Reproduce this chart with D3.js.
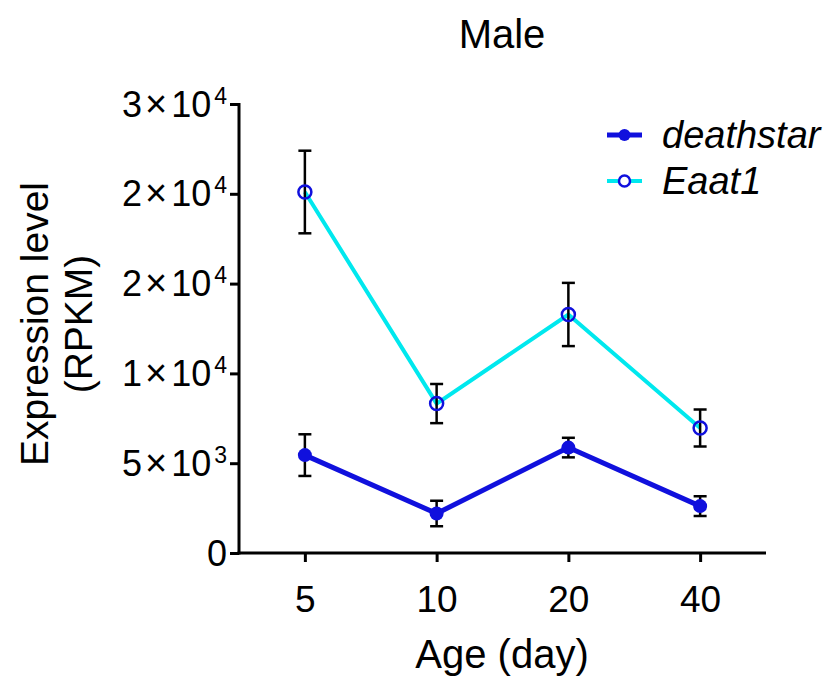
<!DOCTYPE html>
<html>
<head>
<meta charset="utf-8">
<script src="https://cdn.jsdelivr.net/npm/d3@7"></script>
<style>
  body { margin: 0; background: #fff; }
  svg { font-family: "Liberation Sans", Arial, sans-serif; }
  .axis path, .axis line { stroke: #000; stroke-width: 3; }
  .axis text { font-size: 37px; fill: #000; }
</style>
</head>
<body>
<svg width="835" height="678"></svg>
<script>
// data
const ages = ["5", "10", "20", "40"];
const deathstar = [5450, 2200, 5870, 2610];
const deathstarErr = [1160, 710, 545, 550];
const eaat1 = [20100, 8320, 13280, 6960];
const eaat1Err = [2300, 1090, 1760, 1030];
const yTicks = [0, 5000, 10000, 15000, 20000, 25000];
const yTickMant = ["0", "5", "1", "2", "2", "3"];
const yTickExp = [null, "3", "4", "4", "4", "4"];

const svg = d3.select('svg');
const x0 = 239, x1 = 766, yBottom = 553, yTop = 104;

const xScale = d3.scalePoint()
    .domain(ages)
    .range([x0, x1])
    .padding(0.5);
const yScale = d3.scaleLinear()
    .domain([0, 25000])
    .range([yBottom, yTop]);

// axes
const xAxis = d3.axisBottom(xScale).tickSize(9).tickSizeOuter(0).tickPadding(24);
const yAxis = d3.axisLeft(yScale).tickValues(yTicks).tickSize(9).tickSizeOuter(0).tickPadding(3);

const gx = svg.append('g').attr('class', 'axis')
    .attr('transform', `translate(0,${yBottom})`).call(xAxis);
const gy = svg.append('g').attr('class', 'axis')
    .attr('transform', `translate(${x0},0)`).call(yAxis);
gx.select('.domain').attr('d', `M${x0 - 1.5},0H${x1}`);
gy.select('.domain').attr('d', `M0,${yTop - 1}V${yBottom + 1.5}`);

// y tick labels like 5x10^3
gy.selectAll('.tick text').each(function (d, i) {
    const t = d3.select(this).text(null).attr('dy', '12px').style('font-size', '36px');
    t.append('tspan').text(yTickMant[i]);
    if (yTickExp[i]) {
        t.append('tspan').text('\u00d7').style('font-size', '38px').attr('dx', 3);
        t.append('tspan').text('10').attr('dx', 4);
        t.append('tspan').text(yTickExp[i]).style('font-size', '23px').attr('dy', '-13px').attr('dx', 3);
    }
});

// lines
const line = (vals) => d3.line()
    .x((d, i) => xScale(ages[i]))
    .y(d => yScale(d))(vals);

svg.append('path').attr('d', line(eaat1))
    .attr('fill', 'none').attr('stroke', '#00e8ee').attr('stroke-width', 4);
svg.append('path').attr('d', line(deathstar))
    .attr('fill', 'none').attr('stroke', '#1010dd').attr('stroke-width', 5);

// error bars
function errBars(vals, errs) {
    const g = svg.append('g').attr('stroke', '#000').attr('stroke-width', 2.5);
    vals.forEach((v, i) => {
        const cx = xScale(ages[i]);
        const top = yScale(v + errs[i]), bot = yScale(v - errs[i]);
        g.append('line').attr('x1', cx).attr('x2', cx).attr('y1', top).attr('y2', bot);
        g.append('line').attr('x1', cx - 6.5).attr('x2', cx + 6.5).attr('y1', top).attr('y2', top);
        g.append('line').attr('x1', cx - 6.5).attr('x2', cx + 6.5).attr('y1', bot).attr('y2', bot);
    });
}
errBars(eaat1, eaat1Err);
errBars(deathstar, deathstarErr);

// markers
svg.append('g').selectAll('circle').data(eaat1).join('circle')
    .attr('cx', (d, i) => xScale(ages[i])).attr('cy', d => yScale(d))
    .attr('r', 6.5).attr('fill', 'none').attr('stroke', '#1010dd').attr('stroke-width', 2.5);
svg.append('g').selectAll('circle').data(deathstar).join('circle')
    .attr('cx', (d, i) => xScale(ages[i])).attr('cy', d => yScale(d))
    .attr('r', 7).attr('fill', '#1010dd');

// titles
svg.append('text').attr('x', 502).attr('y', 48).attr('text-anchor', 'middle')
    .style('font-size', '40px').text('Male');
svg.append('text').attr('x', 502).attr('y', 668).attr('text-anchor', 'middle')
    .style('font-size', '40px').text('Age (day)');
const yt = svg.append('text').attr('transform', 'translate(48,324) rotate(-90)')
    .attr('text-anchor', 'middle').style('font-size', '39px');
yt.append('tspan').attr('x', 0).attr('y', 0).text('Expression level');
yt.append('tspan').attr('x', 0).attr('y', 44).text('(RPKM)');

// legend
const legend = [
    { name: 'deathstar', line: '#1010dd', filled: true, y: 135 },
    { name: 'Eaat1', line: '#00e8ee', filled: false, y: 181 }
];
const lg = svg.append('g');
legend.forEach(l => {
    lg.append('line').attr('x1', 607).attr('x2', 642).attr('y1', l.y).attr('y2', l.y)
        .attr('stroke', l.line).attr('stroke-width', l.filled ? 5 : 4);
    if (l.filled) {
        lg.append('circle').attr('cx', 624.5).attr('cy', l.y).attr('r', 6).attr('fill', '#1010dd');
    } else {
        lg.append('circle').attr('cx', 624.5).attr('cy', l.y).attr('r', 5.5)
            .attr('fill', '#fff').attr('stroke', '#1010dd').attr('stroke-width', 2.5);
    }
    lg.append('text').attr('x', 662).attr('y', l.y + 13).style('font-size', '38px')
        .style('font-style', 'italic').text(l.name);
});
</script>
</body>
</html>
